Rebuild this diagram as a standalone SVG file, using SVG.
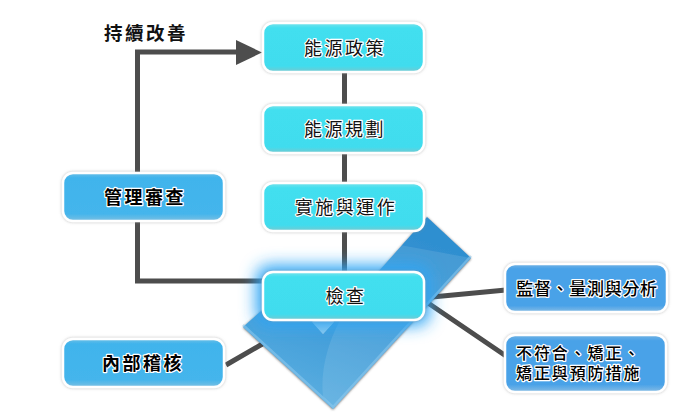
<svg xmlns="http://www.w3.org/2000/svg" width="700" height="420" viewBox="0 0 700 420">
<style>
.bx{stroke:#fff;stroke-width:2.5;filter:url(#sh)}
.c{fill:url(#cy)}.b1{fill:url(#bl)}.b2{fill:url(#bm)}
.t{font-family:"Noto Sans CJK TC","Liberation Sans",sans-serif;font-size:18px;letter-spacing:2.500px;text-anchor:middle;fill:#111;stroke:#fff;stroke-width:2.400px;paint-order:stroke;stroke-linejoin:round}
.bd{font-weight:500;fill:#000}
.hv{font-weight:700;fill:#000}
.s{font-size:16px;letter-spacing:1.900px;text-anchor:start}
.l{fill:none;stroke:#4d4d4d;stroke-width:5}
</style>
<defs>
<filter id="sh" x="-10%" y="-20%" width="120%" height="140%"><feDropShadow dx="0" dy="0" stdDeviation="1.400" flood-color="#888" flood-opacity=".55"/></filter>
<filter id="gl" x="-30%" y="-60%" width="160%" height="220%"><feGaussianBlur stdDeviation="8"/></filter>
<filter id="cs" x="-5%" y="-5%" width="110%" height="110%"><feDropShadow dx="0" dy="0.500" stdDeviation="0.900" flood-color="#333" flood-opacity=".8"/></filter>
<linearGradient id="cy" x1="0" y1="0" x2="0" y2="1"><stop offset="0" stop-color="#7ce3ea"/><stop offset=".1" stop-color="#42dfef"/><stop offset=".88" stop-color="#41dcee"/><stop offset="1" stop-color="#78c8cf"/></linearGradient>
<linearGradient id="bl" x1="0" y1="0" x2="0" y2="1"><stop offset="0" stop-color="#6cbfe6"/><stop offset=".1" stop-color="#41b4ec"/><stop offset=".85" stop-color="#44b5ec"/><stop offset="1" stop-color="#7cc0e2"/></linearGradient>
<linearGradient id="bm" x1="0" y1="0" x2="0" y2="1"><stop offset="0" stop-color="#74b4e4"/><stop offset=".1" stop-color="#4aa2e8"/><stop offset=".87" stop-color="#4aa2e8"/><stop offset="1" stop-color="#86bce4"/></linearGradient>
<linearGradient id="ck" x1="0.750" y1="0.100" x2="0.350" y2="1"><stop offset="0" stop-color="#2f8fd0"/><stop offset=".55" stop-color="#3f9bd8"/><stop offset="1" stop-color="#5aaee0"/></linearGradient>
</defs>
<g id="connectors">
<path class="l" d="M137.500 172V52H240"/>
<path d="M236 40L262 52.500L236 65Z" fill="#4d4d4d"/>
<path class="l" d="M137.500 222V281H264"/>
<path class="l" d="M344.500 72V105M344.500 153V183M344.500 231V272"/>
<path class="l" d="M432 297L506 290M428 303L506 356M226 365L264 343"/>
</g>
<g id="check">
<path d="M243 327L285 290L323 334L427 217L471 258L333 409Z" fill="url(#ck)" filter="url(#cs)"/>
<path d="M333 409L323 396C318 350 345 295 400 245L471 258Z" fill="#fff" opacity=".1"/>
<path d="M243 327L333 409L471 258" fill="none" stroke="#8fcbee" stroke-opacity=".55" stroke-width="2.500" transform="translate(0 -2)"/>
<path d="M312 322L323 334L334 322Z" fill="#8fcbee"/>
</g>
<g id="n1"><rect class="bx c" x="263" y="23" width="161" height="49" rx="10"/><text class="t" x="345" y="55">能源政策</text></g>
<g id="n2"><rect class="bx c" x="263" y="105" width="161" height="48" rx="10"/><text class="t" x="345" y="136">能源規劃</text></g>
<g id="n3"><rect class="bx c" x="263" y="183" width="161" height="48" rx="10"/><text class="t" x="346" y="214">實施與運作</text></g>
<g id="n4"><rect x="256" y="265" width="174" height="61" rx="14" fill="#2ea6f5" filter="url(#gl)"/><rect class="bx c" x="263" y="272" width="161" height="48" rx="10"/><text class="t" x="346" y="303">檢查</text></g>
<g id="n5"><rect class="bx b1" x="63" y="173" width="161" height="48" rx="10"/><text class="t hv" x="145" y="204">管理審查</text></g>
<g id="n6"><rect class="bx b1" x="63" y="339" width="161" height="48" rx="10"/><text class="t hv" x="143" y="370">內部稽核</text></g>
<g id="n7"><rect class="bx b2" x="505" y="264" width="162" height="48" rx="10"/><text class="t bd" x="587" y="295" style="font-size:17px;letter-spacing:.7px">監督、量測與分析</text></g>
<g id="n8"><rect class="bx b2" x="505" y="335" width="161" height="57" rx="10"/><text class="t bd s" x="516" y="359">不符合、矯正、<tspan x="516" dy="20">矯正與預防措施</tspan></text></g>
<g id="label"><text x="146" y="40" text-anchor="middle" font-family="'Noto Sans CJK TC','Liberation Sans',sans-serif" font-size="18.500" font-weight="700" letter-spacing="2.500" fill="#111">持續改善</text></g>
</svg>
